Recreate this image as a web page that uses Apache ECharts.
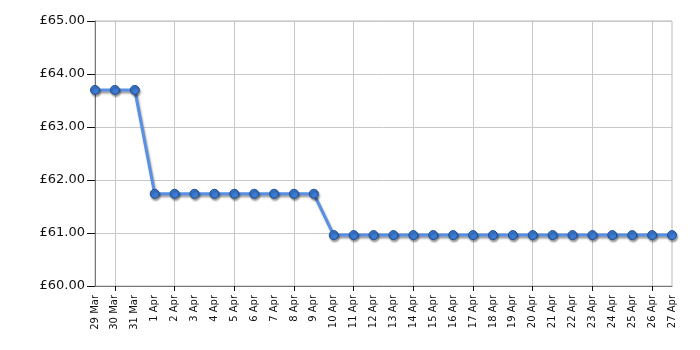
<!DOCTYPE html>
<html><head><meta charset="utf-8">
<script src="https://cdn.jsdelivr.net/npm/echarts@6/dist/echarts.min.js"></script>
<style>html,body{margin:0;padding:0;background:#fff}#c{width:700px;height:350px}</style>
</head><body><div id="c"></div>
<script>
const categories = ["29 Mar","30 Mar","31 Mar","1 Apr","2 Apr","3 Apr","4 Apr","5 Apr","6 Apr","7 Apr","8 Apr","9 Apr","10 Apr","11 Apr","12 Apr","13 Apr","14 Apr","15 Apr","16 Apr","17 Apr","18 Apr","19 Apr","20 Apr","21 Apr","22 Apr","23 Apr","24 Apr","25 Apr","26 Apr","27 Apr"];
const prices = [63.70,63.70,63.70,61.74,61.74,61.74,61.74,61.74,61.74,61.74,61.74,61.74,60.96,60.96,60.96,60.96,60.96,60.96,60.96,60.96,60.96,60.96,60.96,60.96,60.96,60.96,60.96,60.96,60.96,60.96];
const yMin = 60, yMax = 65, yStep = 1;

const chart = echarts.init(document.getElementById('c'), null, {renderer:'canvas'});
chart.setOption({
  animation: false,
  grid: {left: 95, right: 28, top: 21, bottom: 64, show: true, borderColor: '#bbbbbb', borderWidth: 1},
  xAxis: {
    type: 'category', data: categories, boundaryGap: false,
    axisLine: {lineStyle: {color: '#777777', width: 1}},
    axisTick: {show: true, interval: (i) => i % 3 === 1, length: 5, lineStyle: {color: '#111'}},
    splitLine: {show: true, interval: (i) => i % 3 === 1, lineStyle: {color: '#c8c8c8', width: 1}},
    axisLabel: {rotate: 90, interval: 0, fontFamily: 'DejaVu Sans', fontSize: 10, color: '#111', margin: 9}
  },
  yAxis: {
    type: 'value', min: yMin, max: yMax, interval: yStep,
    axisLine: {show: true, lineStyle: {color: '#777777'}},
    axisTick: {show: true, length: 8, lineStyle: {color: '#111'}},
    splitLine: {show: true, lineStyle: {color: '#c8c8c8'}},
    axisLabel: {fontFamily: 'DejaVu Sans', fontSize: 13, color: '#111', margin: 10,
      formatter: v => '£' + v.toFixed(2)}
  },
  series: [{
    type: 'line', data: prices,
    symbol: 'circle', symbolSize: 9,
    lineStyle: {color: '#5890e4', width: 3, shadowColor: 'rgba(0,0,0,0.4)', shadowBlur: 2, shadowOffsetX: 1, shadowOffsetY: 2},
    itemStyle: {color: '#3b7bd4', borderColor: '#214f92', borderWidth: 1, shadowColor: 'rgba(0,0,0,0.4)', shadowBlur: 2, shadowOffsetX: 1, shadowOffsetY: 2}
  }]
});
</script></body></html>
